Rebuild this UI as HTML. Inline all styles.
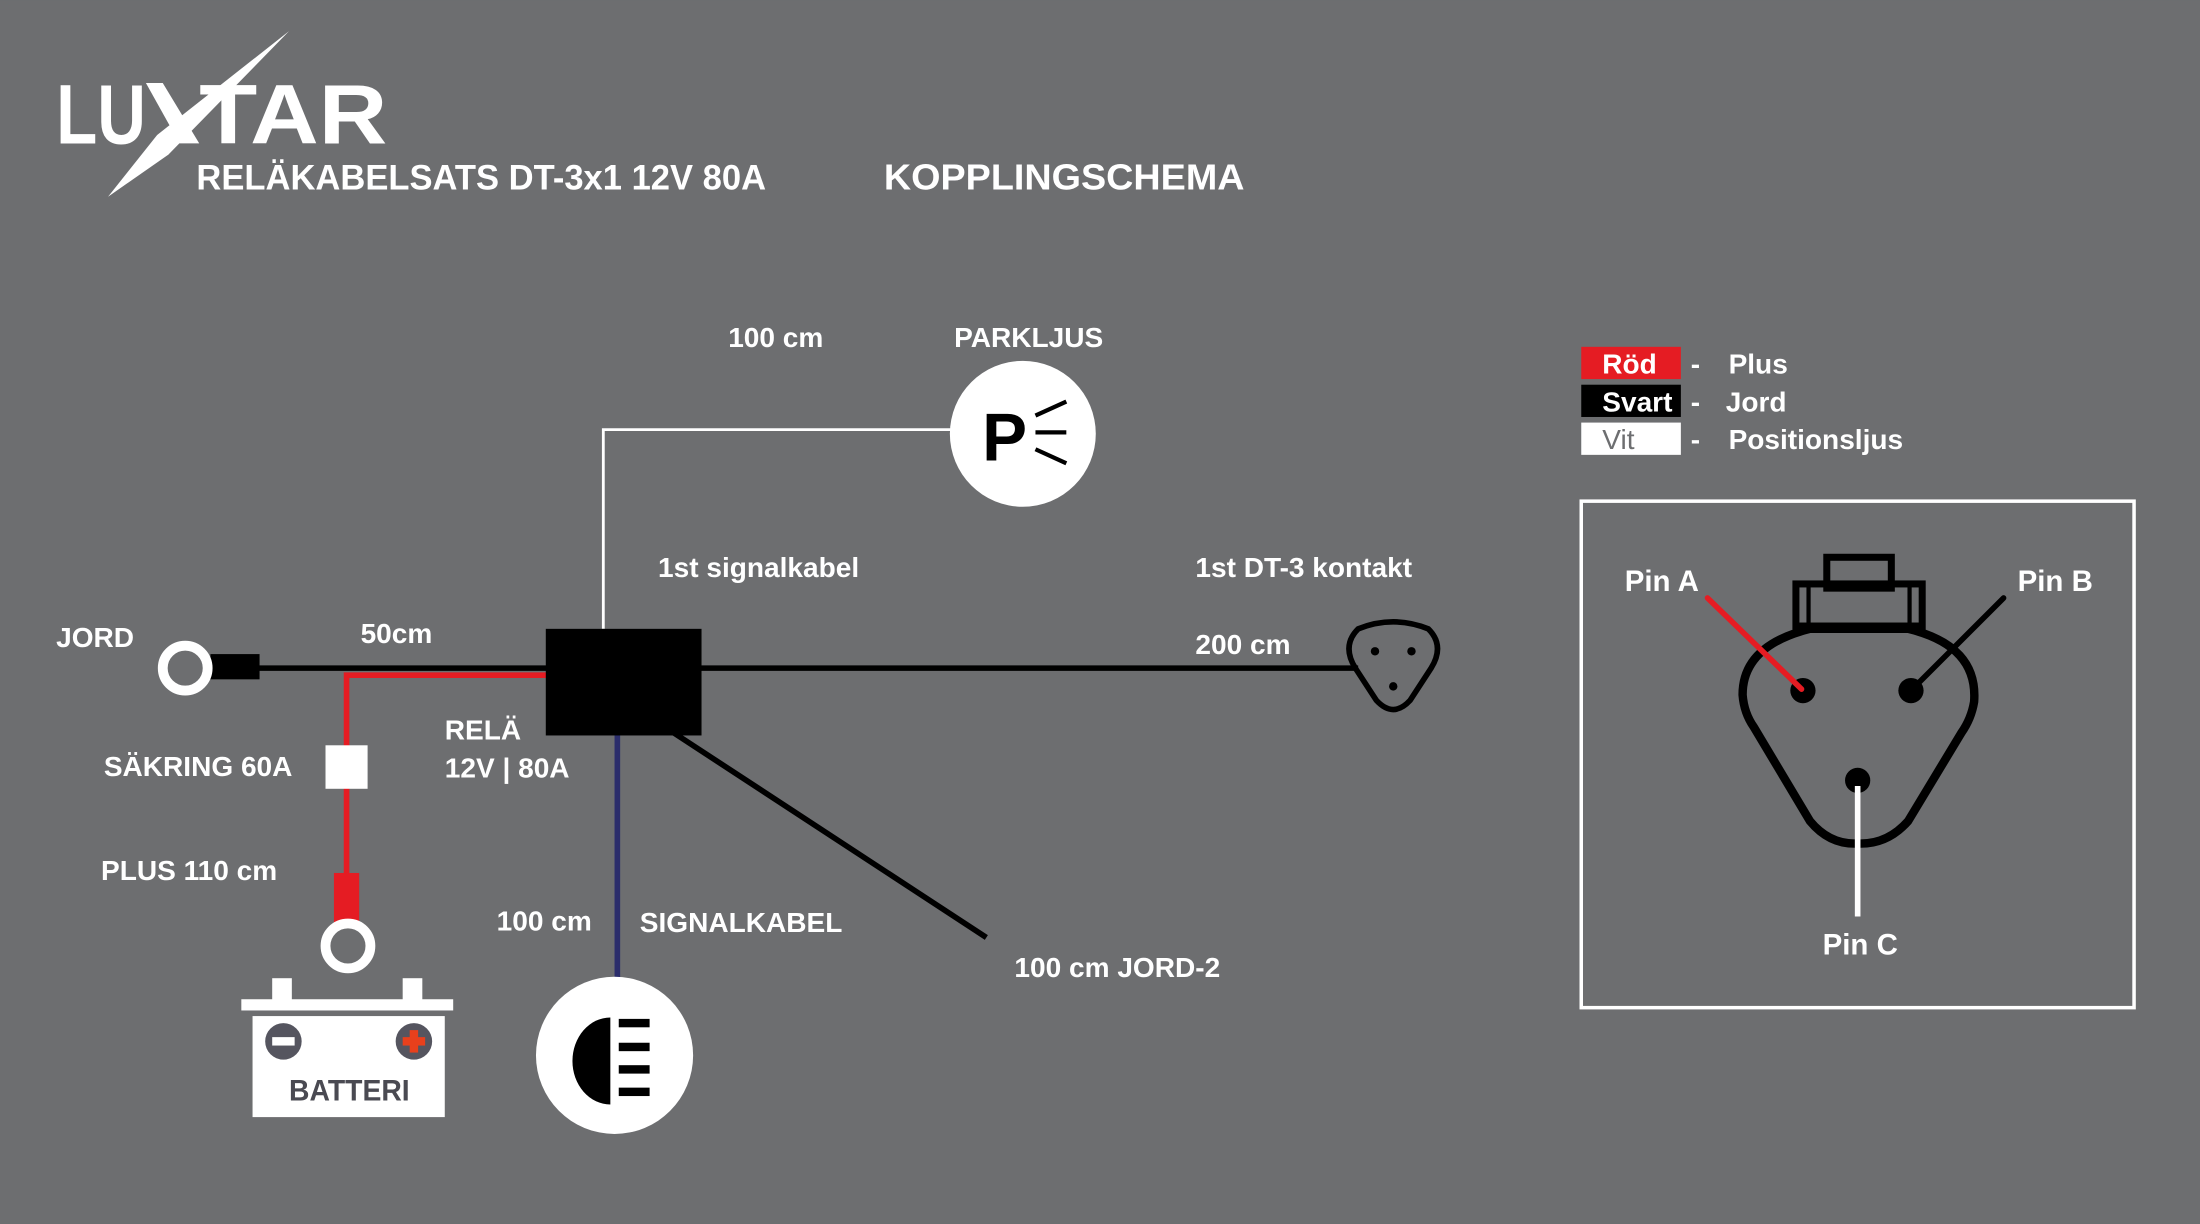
<!DOCTYPE html>
<html><head><meta charset="utf-8"><style>
html,body{margin:0;padding:0;background:#6d6e70;}
svg{display:block;}
text{font-family:"Liberation Sans",sans-serif;font-weight:bold;fill:#fff;}
</style></head><body>
<svg width="2200" height="1224" viewBox="0 0 1568 872" xmlns="http://www.w3.org/2000/svg">
<rect width="1568" height="872" fill="#6d6e70"/>
<!-- Logo -->
<text x="40" y="102" font-size="60" textLength="64" lengthAdjust="spacingAndGlyphs">LU</text>
<text x="142" y="102" font-size="60" textLength="134" lengthAdjust="spacingAndGlyphs">TAR</text>
<polygon points="206,22 120,110 77,140 112,96" fill="#fff"/>
<polygon points="104,59 116,59 142,102 128,102" fill="#fff"/>
<text x="140" y="135" font-size="25" textLength="406" lengthAdjust="spacingAndGlyphs">RELÄKABELSATS DT-3x1 12V 80A</text>
<text x="630" y="135" font-size="26" textLength="257" lengthAdjust="spacingAndGlyphs">KOPPLINGSCHEMA</text>

<!-- wires -->
<polyline points="430,448 430,306 690,306" fill="none" stroke="#fff" stroke-width="2"/>
<line x1="150" y1="476" x2="968" y2="476" stroke="#000" stroke-width="4"/>
<polyline points="390,481 247,481 247,625" fill="none" stroke="#e51c23" stroke-width="4"/>
<line x1="440" y1="520" x2="440" y2="702" stroke="#2b2d6b" stroke-width="4"/>
<line x1="480" y1="522" x2="703" y2="668" stroke="#000" stroke-width="4"/>

<!-- jord terminal -->
<rect x="150" y="466" width="35" height="18" fill="#000"/>
<circle cx="132" cy="476" r="16" fill="none" stroke="#fff" stroke-width="7"/>
<!-- fuse -->
<rect x="232" y="531" width="30" height="31" fill="#fff"/>
<!-- red terminal -->
<rect x="238" y="622" width="18" height="36" fill="#e51c23"/>
<circle cx="248" cy="674" r="16" fill="none" stroke="#fff" stroke-width="7"/>
<!-- battery -->
<rect x="194" y="697" width="14" height="16" fill="#fff"/>
<rect x="287" y="697" width="14" height="16" fill="#fff"/>
<rect x="172" y="712" width="151" height="8" fill="#fff"/>
<rect x="180" y="724" width="137" height="72" fill="#fff"/>
<circle cx="202" cy="742" r="13" fill="#55555f"/>
<rect x="194" y="739" width="16" height="6" fill="#fff"/>
<circle cx="295" cy="742" r="13" fill="#55555f"/>
<rect x="287" y="739" width="16" height="6" fill="#e8401c"/>
<rect x="292" y="734" width="6" height="16" fill="#e8401c"/>
<text x="206" y="784" font-size="21" style="fill:#4a4a52" textLength="86" lengthAdjust="spacingAndGlyphs">BATTERI</text>

<!-- relay -->
<rect x="389" y="448" width="111" height="76" fill="#000"/>

<!-- parkljus -->
<circle cx="729" cy="309" r="52" fill="#fff"/>
<text x="700" y="328" font-size="48" style="fill:#000">P</text>
<line x1="738" y1="296" x2="760" y2="286" stroke="#000" stroke-width="3"/>
<line x1="738" y1="308" x2="760" y2="308" stroke="#000" stroke-width="3"/>
<line x1="738" y1="320" x2="760" y2="330" stroke="#000" stroke-width="3"/>

<!-- headlight -->
<circle cx="438" cy="752" r="56" fill="#fff"/>
<path d="M435,725 A27,31 0 0 0 435,787 Z" fill="#000"/>
<rect x="441" y="726" width="22" height="6" fill="#000"/>
<rect x="441" y="743" width="22" height="6" fill="#000"/>
<rect x="441" y="759" width="22" height="6" fill="#000"/>
<rect x="441" y="775" width="22" height="6" fill="#000"/>

<!-- DT connector small -->
<path d="M968,448 Q993,438 1018,448 Q1030,460 1020,476 L1005,499 Q993,512 981,499 L966,476 Q956,460 968,448 Z" fill="none" stroke="#000" stroke-width="4"/>
<circle cx="980" cy="464" r="3" fill="#000"/>
<circle cx="1006" cy="464" r="3" fill="#000"/>
<circle cx="993" cy="489" r="3" fill="#000"/>

<!-- labels -->
<g font-size="20">
<text x="519" y="247">100 cm</text>
<text x="680" y="247">PARKLJUS</text>
<text x="469" y="411">1st signalkabel</text>
<text x="852" y="411">1st DT-3 kontakt</text>
<text x="852" y="466">200 cm</text>
<text x="40" y="461">JORD</text>
<text x="257" y="458">50cm</text>
<text x="74" y="553">SÄKRING 60A</text>
<text x="317" y="527">RELÄ</text>
<text x="317" y="554">12V | 80A</text>
<text x="72" y="627">PLUS 110 cm</text>
<text x="354" y="663">100 cm</text>
<text x="456" y="664">SIGNALKABEL</text>
<text x="723" y="696">100 cm JORD-2</text>
</g>

<!-- legend -->
<rect x="1127" y="247" width="71" height="23" fill="#e51c23"/>
<rect x="1127" y="274" width="71" height="23" fill="#000"/>
<rect x="1127" y="301" width="71" height="23" fill="#fff"/>
<g font-size="20">
<text x="1142" y="266">Röd</text>
<text x="1142" y="293">Svart</text>
<text x="1142" y="320" style="fill:#6d6e70;font-weight:normal">Vit</text>
<text x="1205" y="266">-</text><text x="1232" y="266">Plus</text>
<text x="1205" y="293">-</text><text x="1230" y="293">Jord</text>
<text x="1205" y="320">-</text><text x="1232" y="320">Positionsljus</text>
</g>

<!-- pin box -->
<rect x="1127" y="357" width="394" height="361" fill="none" stroke="#fff" stroke-width="2.5"/>
<rect x="1302" y="397" width="46" height="22" fill="none" stroke="#000" stroke-width="5"/>
<rect x="1280" y="416" width="90" height="30" fill="none" stroke="#000" stroke-width="5"/>
<line x1="1289" y1="418" x2="1289" y2="445" stroke="#000" stroke-width="3"/>
<line x1="1361" y1="418" x2="1361" y2="445" stroke="#000" stroke-width="3"/>
<path d="M1290,448 L1360,448 Q1410,460 1407,500 Q1405,512 1398,522 L1360,585 Q1345,602 1324,601 Q1304,602 1290,585 L1250,518 Q1243,508 1242,495 Q1242,460 1290,448 Z" fill="none" stroke="#000" stroke-width="6"/>
<circle cx="1285" cy="492" r="9" fill="#000"/>
<circle cx="1362" cy="492" r="9" fill="#000"/>
<circle cx="1324" cy="556" r="9" fill="#000"/>
<line x1="1217" y1="426" x2="1284" y2="491" stroke="#e51c23" stroke-width="4" stroke-linecap="round"/>
<line x1="1428" y1="426" x2="1363" y2="491" stroke="#000" stroke-width="4" stroke-linecap="round"/>
<line x1="1324" y1="560" x2="1324" y2="653" stroke="#fff" stroke-width="4"/>
<g font-size="21" style="font-weight:normal">
<text x="1158" y="421">Pin A</text>
<text x="1438" y="421">Pin B</text>
<text x="1299" y="680">Pin C</text>
</g>
</svg>
</body></html>
